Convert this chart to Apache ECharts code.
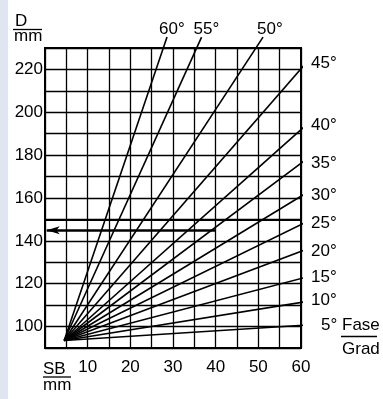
<!DOCTYPE html>
<html>
<head>
<meta charset="utf-8">
<script src="https://cdn.jsdelivr.net/npm/echarts@6/dist/echarts.min.js"></script>
<style>
html, body { margin: 0; padding: 0; background: #fff; }
#strip { position: absolute; left: 0; top: 0; width: 8px; height: 399px; background: #dfe6f2; }
#chart { position: absolute; left: 0; top: 0; width: 383px; height: 399px; }
</style>
</head>
<body>
<div id="strip"></div>
<div id="chart"></div>
<script>
// Chamfer angles (Fase, degrees) and the end points of each ray
const angles = [5, 10, 15, 20, 25, 30, 35, 40, 45, 50, 55, 60];
const originSB = 4.5;
const originD = 93.5;
const endSB = [61.7, 61.7, 61.7, 61.7, 61.7, 61.7, 61.7, 61.7, 61.7, 51.1, 36.7, 28.6];
const endD = [100.8, 111.8, 123.3, 136.4, 149.2, 162.9, 178.7, 194.9, 224.2, 235.1, 235.1, 235.1];

// Axis tick labels
const xLabels = [10, 20, 30, 40, 50, 60];
const yLabels = [100, 120, 140, 160, 180, 200, 220];

// Worked example: SB = 40 mm read across to D
const exampleSB = 40;
const exampleD = 145;
const emphasisD = 150;

const FONT = '"Liberation Sans", Arial, sans-serif';
const FS = 17;
const INK = '#000';

// label placement next to each ray's tip
const labelOffset = {
  60: [-8, -8], 55: [-8, -8], 50: [-6, -8],
  45: [8, -3], 40: [8, -3], 35: [8, 1], 30: [8, 0], 25: [8, 0],
  20: [8, 1], 15: [8, -1], 10: [8, -2], 5: [18, 0]
};

const chart = echarts.init(document.getElementById('chart'), null, { renderer: 'canvas' });

const raySeries = angles.map((a, i) => ({
  type: 'line',
  name: a + '°',
  clip: false,
  silent: true,
  animation: false,
  showSymbol: false,
  symbol: 'none',
  lineStyle: { color: INK, width: 1.6 },
  data: [[originSB, originD], [endSB[i], endD[i]]],
  endLabel: {
    show: true,
    formatter: a + '°',
    distance: 0,
    offset: labelOffset[a],
    color: INK,
    fontFamily: FONT,
    fontSize: FS,
    align: 'left',
    verticalAlign: 'middle'
  }
}));

const helperSeries = {
  type: 'line',
  clip: false,
  silent: true,
  animation: false,
  symbol: 'none',
  lineStyle: { opacity: 0 },
  data: [[exampleSB, exampleD]],
  markLine: {
    silent: true,
    animation: false,
    label: { show: false },
    emphasis: { disabled: true },
    data: [
      [
        { coord: [0, emphasisD], symbol: 'none', lineStyle: { color: INK, width: 2.2, type: 'solid' } },
        { coord: [60, emphasisD], symbol: 'none' }
      ],
      [
        { coord: [exampleSB, exampleD], symbol: 'none', lineStyle: { color: INK, width: 2.6, type: 'solid' } },
        { coord: [0.4, exampleD], symbol: 'arrow', symbolSize: [6, 13] }
      ],
      [
        { coord: [exampleSB, 64], symbol: 'none', lineStyle: { color: INK, width: 2.2, type: 'solid' } },
        { coord: [exampleSB, 77.6], symbol: 'arrow', symbolSize: [7, 11] }
      ]
    ]
  }
};

const option = {
  animation: false,
  grid: {
    left: 45, top: 48, width: 256, height: 300,
    show: true, borderColor: INK, borderWidth: 2, backgroundColor: 'transparent'
  },
  xAxis: {
    type: 'value', min: 0, max: 60, interval: 5,
    axisLine: { show: false },
    axisTick: { show: false },
    splitLine: { show: true, lineStyle: { color: INK, width: 1.3 } },
    axisLabel: {
      margin: 11, color: INK, fontFamily: FONT, fontSize: FS,
      formatter: v => (xLabels.indexOf(v) >= 0 ? String(v) : '')
    }
  },
  yAxis: {
    type: 'value', min: 90, max: 230, interval: 10,
    axisLine: { show: false },
    axisTick: { show: false },
    splitLine: { show: true, lineStyle: { color: INK, width: 1.3 } },
    axisLabel: {
      margin: 2, color: INK, fontFamily: FONT, fontSize: FS,
      formatter: v => (yLabels.indexOf(v) >= 0 ? String(v) : '')
    }
  },
  series: raySeries.concat([helperSeries]),
  graphic: [
    { type: 'text', left: 15, top: 13, style: { text: 'D', font: FS + 'px ' + FONT, fill: INK } },
    { type: 'line', shape: { x1: 13, y1: 29.5, x2: 42, y2: 29.5 }, style: { stroke: INK, lineWidth: 1.3 } },
    { type: 'text', left: 14, top: 28, style: { text: 'mm', font: FS + 'px ' + FONT, fill: INK } },

    { type: 'text', left: 43, top: 361, style: { text: 'SB', font: FS + 'px ' + FONT, fill: INK } },
    { type: 'line', shape: { x1: 43, y1: 377, x2: 71, y2: 377 }, style: { stroke: INK, lineWidth: 1.3 } },
    { type: 'text', left: 43, top: 377, style: { text: 'mm', font: FS + 'px ' + FONT, fill: INK } },

    { type: 'text', left: 342, top: 317, style: { text: 'Fase', font: FS + 'px ' + FONT, fill: INK } },
    { type: 'line', shape: { x1: 341, y1: 336.5, x2: 377, y2: 336.5 }, style: { stroke: INK, lineWidth: 1.3 } },
    { type: 'text', left: 342, top: 341, style: { text: 'Grad', font: FS + 'px ' + FONT, fill: INK } }
  ]
};

chart.setOption(option);
</script>
</body>
</html>
